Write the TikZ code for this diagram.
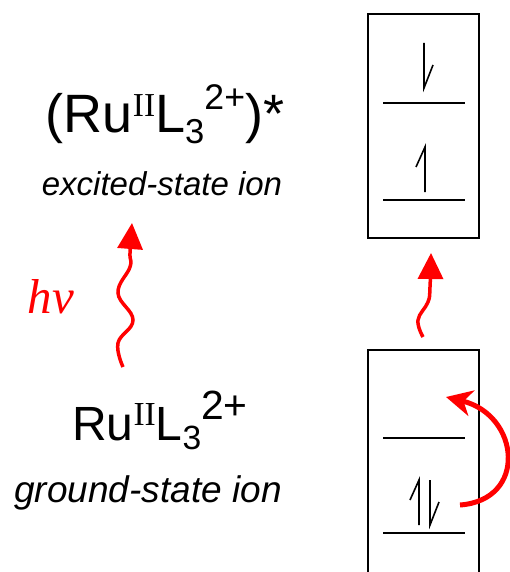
\documentclass[tikz,border=0pt]{standalone}
\usepackage{fontspec}
\setmainfont{Liberation Sans}
\newfontfamily\tnr{Liberation Serif}
\usepackage{graphicx}
\usetikzlibrary{arrows.meta}

% formula with sizes of II, 3 and 2+ as arguments
\newcommand{\ruion}[3]{Ru\raisebox{0.30em}{\scalebox{#1}{\tnr II}}L\raisebox{-0.19em}{\scalebox{#2}{3}}\raisebox{0.43em}{\scalebox{#3}{2+}}}

% half arrows for electrons, given by the foot of the stroke
\newcommand{\spinup}[1]{\draw[spin, shift={(#1)}] (0,0) -- (0,-45) -- (-9,-25);}
\newcommand{\spindown}[1]{\draw[spin, shift={(#1)}] (0,-45) -- (0,0) -- (9,-23);}

\begin{document}
\begin{tikzpicture}[x=1bp, y=-1bp,
    orbbox/.style={rectangle, draw, line width=2bp, minimum width=111bp, inner sep=0pt},
    level/.style={line width=1.8bp},
    spin/.style={line width=1.6bp},
    wavy/.style={red, line width=3.5bp, -{Triangle[length=26bp, width=25bp]}},
    jump/.style={red, line width=5bp, -{Stealth[length=26bp, width=26bp, inset=8bp]}},
    ionname/.style={anchor=base}
]
\useasboundingbox (0,0) rectangle (510,572);

% Left side: the ion in both states
\node[anchor=base, font=\fontsize{54bp}{60bp}\selectfont] (exion) at (165,133) {(\ruion{.62}{.64}{.66})*};
\node[ionname, font=\fontsize{33bp}{40bp}\selectfont\itshape] (exlabel) at (162,195) {excited-state ion};
\node[anchor=base, font=\fontsize{48bp}{56bp}\selectfont] (gsion) at (160,440) {\ruion{.7}{.7}{.85}};
\node[ionname, font=\fontsize{37bp}{44bp}\selectfont\itshape] (gslabel) at (148,502) {ground-state ion};
\node[anchor=base, red, font=\tnr\itshape\fontsize{49bp}{56bp}\selectfont] (hnu) at (51,313) {hν};

% Absorption of light
\coordinate (hvfrom) at (123,367);
\coordinate (hvto)   at (132,223);
\draw[wavy] plot[smooth, tension=0.7] coordinates {(hvfrom) (118,343) (133,320) (118,293) (130,267) (130,253) (hvto)};

% Right side: orbital boxes
\node[orbbox, minimum height=224bp] (exbox) at (423.5,126) {};
\node[orbbox, minimum height=240bp] (gsbox) at (423.5,470) {};

\draw[level] (383,103) -- (465,103);
\draw[level] (383,200) -- (465,200);
\draw[level] (383,438) -- (465,438);
\draw[level] (383,533) -- (465,533);

\spindown{424,88}
\spinup{425,192}
\spinup{419,525}
\spindown{430,525}

% Promotion of one electron
\coordinate (jumpfrom) at (460,505);
\coordinate (jumpto)   at (446,397);
\draw[jump] (jumpfrom) .. controls (528,500) and (520,415) .. (jumpto);

% Between the boxes
\coordinate (boxfrom) at (423,337);
\coordinate (boxto)   at (431,253);
\draw[wavy] plot[smooth, tension=0.7] coordinates {(boxfrom) (418,320) (428,302) (430,287) (boxto)};

\end{tikzpicture}
\end{document}
